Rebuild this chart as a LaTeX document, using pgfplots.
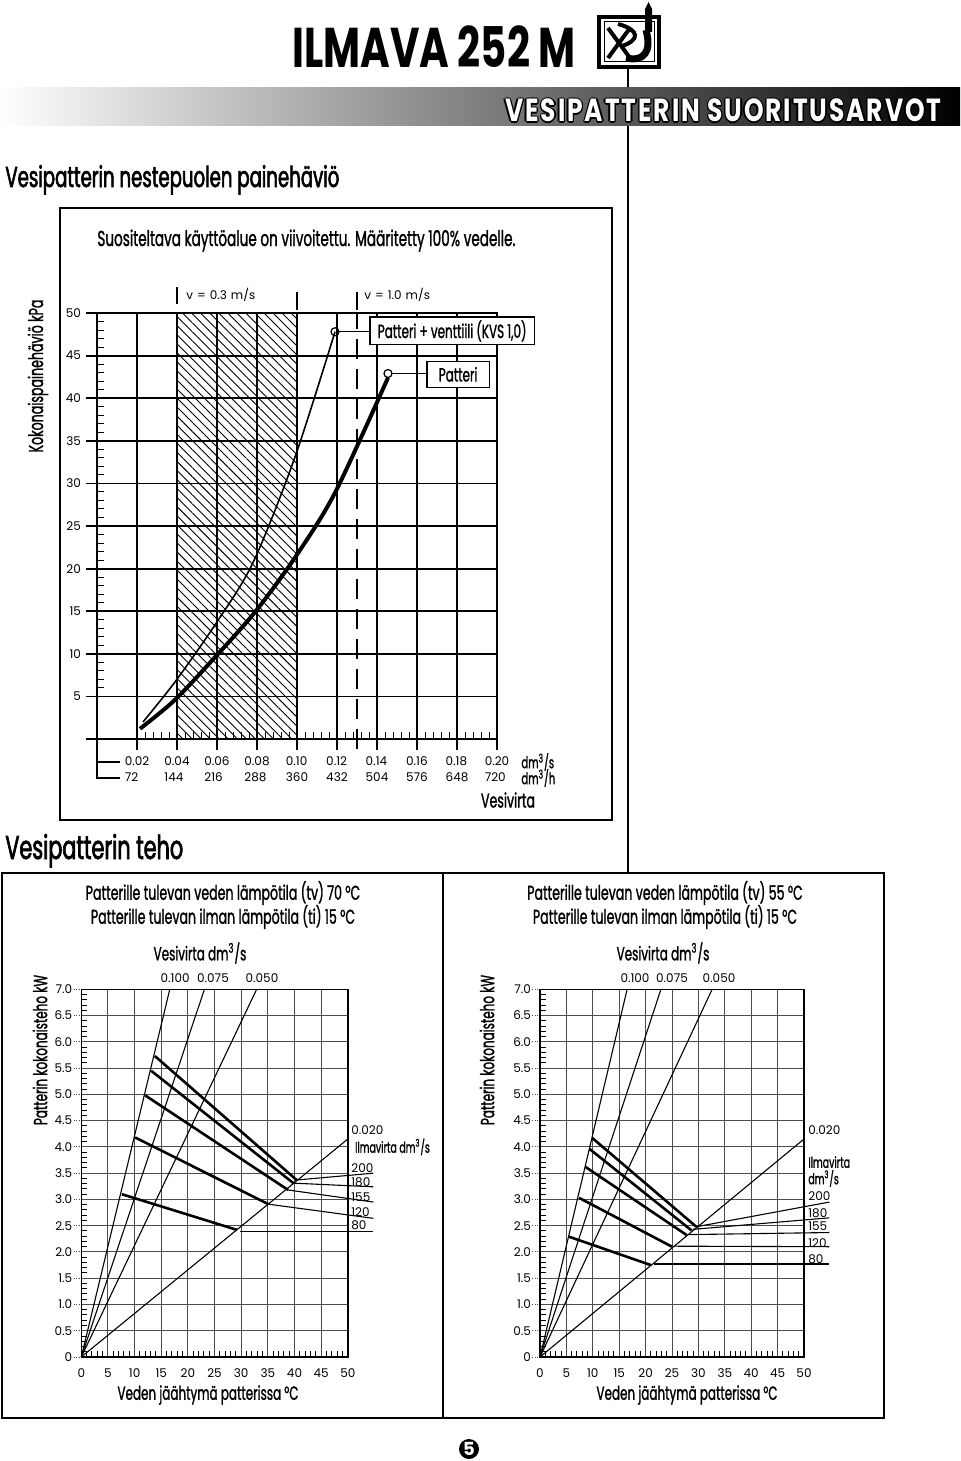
\documentclass[border=0pt]{standalone}
\usepackage{fontspec}
\setmainfont{Poppins}
\newfontfamily\cnd{Poppins}[FakeStretch=0.63, FakeBold=1.2]
\newfontfamily\hdg{Poppins}[FakeStretch=0.63, FakeBold=2]
\newfontfamily\ttl{Poppins}[FakeStretch=0.72]
\newfontfamily\barf{Poppins}[FakeStretch=0.78, LetterSpace=6]
\newfontfamily\tck{Poppins}
\usepackage{pgfplots}
\pgfplotsset{compat=1.18}
\usetikzlibrary{patterns.meta}

\pgfplotsset{
  bchart/.style={
    scale only axis, height=183.85pt,
    xmin=0, xmax=50, ymin=0, ymax=7, clip=false,
    xtick={0,5,...,50}, ytick={0,0.5,...,7},
    yticklabels={0,0.5,1.0,1.5,2.0,2.5,3.0,3.5,4.0,4.5,5.0,5.5,6.0,6.5,7.0},
    xtick pos=bottom, ytick pos=left,
    minor x tick num=4, minor y tick num=4,
    grid=major, major grid style={black!70, line width=0.5pt},
    tick align=inside, major tick length=-4.5pt, minor tick length=3pt,
    major x tick style={draw=none},
    major y tick style={black!70, densely dotted, line width=0.5pt},
    minor tick style={black, line width=0.5pt},
    axis line style={black, line width=0.7pt},
    /pgf/number format/assume math mode=true,
    tick label style={font=\tck\fontsize{6}{7}\selectfont},
    xticklabel style={yshift=-2.5pt},
    yticklabel style={xshift=-1pt},
  },
  vline/.style={black, line width=0.55pt},
  aline/.style={black, line width=1.3pt},
}

\begin{document}
\begin{tikzpicture}[x=0.5pt,y=-0.5pt]
\path[use as bounding box] (0,0) rectangle (960,1461);
\coordinate (TOP) at (97,739);
\coordinate (BL) at (81.3,1357);
\coordinate (BR) at (540,1357);

% vertical page line and header bar
\draw[line width=1pt] (628,68) -- (628,873);
\shade[left color=white, right color=black] (0,88) rectangle (960,126);
\foreach \dx/\dy in {-1.4/0,1.4/0,0/-1.4,0/1.4,-1/-1,1/1,-1/1,1/-1}
  \node[anchor=base east, inner sep=0, text=black, font=\barf\bfseries\fontsize{16}{16}\selectfont] at (942+\dx,122+\dy) {VESIPATTERIN SUORITUSARVOT};
\node[anchor=base east, inner sep=0, text=white, font=\barf\bfseries\fontsize{16}{16}\selectfont] at (942,122) {VESIPATTERIN SUORITUSARVOT};

% title
\node[anchor=base, inner sep=0, font=\ttl\bfseries\fontsize{28}{28}\selectfont] at (434,68) {ILMAVA 252 M};
% logo
\draw[line width=1.6pt] (599,17) rectangle (659,67);
\draw[line width=0.5pt] (604,22) rectangle (654,62);
\fill (645,32) -- (645,9) -- (648.5,2) -- (652,9) -- (652,32) -- cycle;
\draw[line width=3.5pt] (646,30) .. controls (652,52) and (644,62) .. (626,58);
\draw[line width=2pt] (608,28) -- (630,58) (608,58) -- (630,28);
\draw[line width=2pt] (618,24) .. controls (640,30) and (640,40) .. (622,46);

% headings
\node[anchor=base west, inner sep=0, font=\hdg\fontsize{14.4}{15}\selectfont] at (5,187) {Vesipatterin nestepuolen painehäviö};
\node[anchor=base west, inner sep=0, font=\hdg\fontsize{16.5}{17}\selectfont] at (5,859) {Vesipatterin teho};

% frames
\draw[line width=1pt] (60,208) rectangle (612,820);
\draw[line width=1pt] (2,873) rectangle (884,1418);
\draw[line width=1pt] (443,873) -- (443,1418);

\node[anchor=base west, inner sep=0, font=\cnd\fontsize{10.8}{12}\selectfont] at (97,246) {Suositeltava käyttöalue on viivoitettu. Määritetty 100\% vedelle.};
\node[rotate=90, inner sep=0, font=\cnd\fontsize{10}{11}\selectfont] at (38,376) {Kokonaispainehäviö kPa};

% bracket for two tick rows
\draw[line width=0.6pt] (97,739) -- (97,778) -- (120,778) (97,762) -- (120,762);
\node[anchor=west, inner sep=0, font=\cnd\fontsize{8}{9}\selectfont] at (521,762) {dm\textsuperscript{3}/s};
\node[anchor=west, inner sep=0, font=\cnd\fontsize{8}{9}\selectfont] at (521,778) {dm\textsuperscript{3}/h};
\node[inner sep=0, font=\cnd\fontsize{10}{11}\selectfont] at (508,800) {Vesivirta};

% ===== top chart =====
\begin{axis}[
  at={(TOP)}, anchor=south west, scale only axis,
  width=200pt, height=213pt,
  xmin=0, xmax=0.2, ymin=0, ymax=50, clip=false,
  xtick={0.02,0.04,0.06,0.08,0.10,0.12,0.14,0.16,0.18,0.20},
  xticklabels={{0.02\\72},{0.04\\144},{0.06\\216},{0.08\\288},{0.10\\360},{0.12\\432},{0.14\\504},{0.16\\576},{0.18\\648},{0.20\\720}},
  xticklabel style={align=left, yshift=-5.5pt, font=\tck\fontsize{6}{8}\selectfont},
  ytick={5,10,...,50},
  extra y ticks={0}, extra y tick labels={},
  xtick pos=bottom, ytick pos=left,
  yticklabel style={xshift=-4.5pt, font=\tck\fontsize{6}{7}\selectfont},
  /pgf/number format/assume math mode=true,
  minor x tick num=4, minor y tick num=4,
  grid=major, major grid style={black, line width=0.9pt},
  tick align=inside, major tick length=-5.5pt, minor tick length=3.5pt,
  major tick style={black, line width=0.9pt},
  minor tick style={black, line width=0.5pt},
  axis line style={black, line width=1pt},
]
% hatched recommended region
\addplot[draw=none, pattern={Lines[angle=-45, distance=3.2pt, line width=0.45pt]}] coordinates {(0.04,50) (0.10,50)} \closedcycle;
\addplot[black, line width=1.2pt, dash pattern=on 7.5pt off 1.5pt] coordinates {(0.04,-1) (0.04,50)};
\addplot[black, line width=1.2pt, dash pattern=on 7.5pt off 1.5pt] coordinates {(0.10,-1) (0.10,50)};
\addplot[black, line width=1.2pt, dash pattern=on 10pt off 5pt] coordinates {(0.13,-1.2) (0.13,50)};
\addplot[black, line width=1.2pt] coordinates {(0.04,51) (0.04,53.1)};
\addplot[black, line width=1.2pt] coordinates {(0.10,50.4) (0.10,52.5)};
\addplot[black, line width=1.2pt] coordinates {(0.13,50.4) (0.13,52.5)};
\node[anchor=west, inner sep=0, font=\tck\fontsize{6}{7}\selectfont] at (axis cs:0.0445,52.1) {v\,\,=\,\,0.3\,\,m/s};
\node[anchor=west, inner sep=0, font=\tck\fontsize{6}{7}\selectfont] at (axis cs:0.1335,52.1) {v\,\,=\,\,1.0\,\,m/s};
% curves
\addplot[black, line width=0.8pt, smooth] coordinates {(0.023,2.0) (0.039,6.7) (0.059,13.4) (0.078,20.7) (0.099,33.1) (0.119,47.8)};
\addplot[black, line width=2pt, smooth] coordinates {(0.0215,1.2) (0.039,4.6) (0.059,9.6) (0.079,14.9) (0.099,21.3) (0.119,28.9) (0.1455,42.4)};
\addplot[black, line width=0.6pt] coordinates {(0.1205,47.8) (0.136,47.8)};
\addplot[black, line width=0.6pt] coordinates {(0.147,42.9) (0.1645,42.9)};
\addplot[only marks, mark=o, mark size=2pt, mark options={fill=white, line width=0.6pt}] coordinates {(0.119,47.8) (0.1455,42.9)};
\node[draw, line width=0.8pt, fill=white, anchor=west, inner xsep=4pt, inner ysep=1.5pt, minimum height=13pt, font=\cnd\fontsize{9.5}{10}\selectfont] at (axis cs:0.136,47.9) {Patteri + venttiili (KVS 1,0)};
\node[draw, line width=0.8pt, fill=white, anchor=west, inner xsep=6pt, inner ysep=1.5pt, minimum height=13pt, font=\cnd\fontsize{9.5}{10}\selectfont] at (axis cs:0.1645,42.8) {Patteri};
\end{axis}

% ===== bottom left chart (tv 70) =====
\node[align=center, inner sep=0, font=\cnd\fontsize{10}{12}\selectfont] at (223,905) {Patterille tulevan veden lämpötila (tv) 70 °C\\Patterille tulevan ilman lämpötila (ti) 15 °C};
\node[inner sep=0, font=\cnd\fontsize{9.5}{11}\selectfont] at (200,953) {Vesivirta dm\textsuperscript{3}/s};
\node[rotate=90, inner sep=0, font=\cnd\fontsize{9.5}{11}\selectfont] at (40,1050) {Patterin kokonaisteho kW};
\node[inner sep=0, font=\cnd\fontsize{9.5}{11}\selectfont] at (208,1395) {Veden jäähtymä patterissa °C};

\begin{axis}[bchart, at={(BL)}, anchor=south west, width=133.25pt]
\addplot[vline] coordinates {(0,0) (16.6,7)};
\addplot[vline] coordinates {(0,0) (23.1,7)};
\addplot[vline] coordinates {(0,0) (32.9,7)};
\addplot[vline] coordinates {(0,0) (50,4.15)};
\addplot[aline] coordinates {(13.8,5.73) (40.4,3.37)};
\addplot[aline] coordinates {(13.1,5.45) (39.8,3.31)};
\addplot[aline] coordinates {(12.0,4.98) (38.8,3.18)};
\addplot[aline] coordinates {(10.1,4.18) (35.1,2.91)};
\addplot[aline] coordinates {(7.6,3.10) (29.2,2.42)};
\addplot[vline] coordinates {(40.4,3.37) (54.8,3.50)};
\addplot[vline] coordinates {(39.8,3.31) (54.8,3.24)};
\addplot[vline] coordinates {(38.8,3.18) (54.8,2.95)};
\addplot[vline] coordinates {(35.1,2.91) (54.8,2.64)};
\addplot[vline] coordinates {(29.8,2.39) (54.8,2.39)};
\node[inner sep=0, font=\tck\fontsize{6}{7}\selectfont] at (axis cs:17.6,7.22) {0.100};
\node[inner sep=0, font=\tck\fontsize{6}{7}\selectfont] at (axis cs:24.7,7.22) {0.075};
\node[inner sep=0, font=\tck\fontsize{6}{7}\selectfont] at (axis cs:33.9,7.22) {0.050};
\node[anchor=west, inner sep=0, font=\tck\fontsize{6}{7}\selectfont] at (axis cs:50.6,4.32) {0.020};
\node[anchor=west, inner sep=0, font=\cnd\fontsize{7.5}{8}\selectfont] at (axis cs:51.3,4.0) {Ilmavirta dm\textsuperscript{3}/s};
\node[anchor=west, inner sep=0, font=\tck\fontsize{6}{7}\selectfont] at (axis cs:50.6,3.60) {200};
\node[anchor=west, inner sep=0, font=\tck\fontsize{6}{7}\selectfont] at (axis cs:50.6,3.33) {180};
\node[anchor=west, inner sep=0, font=\tck\fontsize{6}{7}\selectfont] at (axis cs:50.6,3.05) {155};
\node[anchor=west, inner sep=0, font=\tck\fontsize{6}{7}\selectfont] at (axis cs:50.6,2.76) {120};
\node[anchor=west, inner sep=0, font=\tck\fontsize{6}{7}\selectfont] at (axis cs:50.6,2.50) {80};
\end{axis}

% ===== bottom right chart (tv 55) =====
\node[align=center, inner sep=0, font=\cnd\fontsize{10}{12}\selectfont] at (665,905) {Patterille tulevan veden lämpötila (tv) 55 °C\\Patterille tulevan ilman lämpötila (ti) 15 °C};
\node[inner sep=0, font=\cnd\fontsize{9.5}{11}\selectfont] at (663,953) {Vesivirta dm\textsuperscript{3}/s};
\node[rotate=90, inner sep=0, font=\cnd\fontsize{9.5}{11}\selectfont] at (487,1050) {Patterin kokonaisteho kW};
\node[inner sep=0, font=\cnd\fontsize{9.5}{11}\selectfont] at (687,1395) {Veden jäähtymä patterissa °C};

\begin{axis}[bchart, at={(BR)}, anchor=south west, width=132pt]
\addplot[vline] coordinates {(0,0) (16.5,7)};
\addplot[vline] coordinates {(0,0) (22.9,7)};
\addplot[vline] coordinates {(0,0) (32.6,7)};
\addplot[vline] coordinates {(0,0) (50,4.15)};
\addplot[aline] coordinates {(9.9,4.17) (29.6,2.48)};
\addplot[aline] coordinates {(9.4,3.96) (28.7,2.41)};
\addplot[aline] coordinates {(8.6,3.62) (27.8,2.32)};
\addplot[aline] coordinates {(7.4,3.03) (25.0,2.10)};
\addplot[aline] coordinates {(5.5,2.29) (21.0,1.75)};
\addplot[vline] coordinates {(29.6,2.48) (54.8,2.95)};
\addplot[vline] coordinates {(28.9,2.43) (54.8,2.65)};
\addplot[vline] coordinates {(28.0,2.33) (54.8,2.37)};
\addplot[vline] coordinates {(25.3,2.11) (54.8,2.10)};
\addplot[vline] coordinates {(21.5,1.77) (54.8,1.77)};
\node[inner sep=0, font=\tck\fontsize{6}{7}\selectfont] at (axis cs:18.0,7.22) {0.100};
\node[inner sep=0, font=\tck\fontsize{6}{7}\selectfont] at (axis cs:25.0,7.22) {0.075};
\node[inner sep=0, font=\tck\fontsize{6}{7}\selectfont] at (axis cs:33.9,7.22) {0.050};
\node[anchor=west, inner sep=0, font=\tck\fontsize{6}{7}\selectfont] at (axis cs:50.75,4.32) {0.020};
\node[anchor=west, inner sep=0, font=\cnd\fontsize{7.5}{8}\selectfont] at (axis cs:50.75,3.71) {Ilmavirta};
\node[anchor=west, inner sep=0, font=\cnd\fontsize{7.5}{8}\selectfont] at (axis cs:50.75,3.40) {dm\textsuperscript{3}/s};
\node[anchor=west, inner sep=0, font=\tck\fontsize{6}{7}\selectfont] at (axis cs:50.75,3.07) {200};
\node[anchor=west, inner sep=0, font=\tck\fontsize{6}{7}\selectfont] at (axis cs:50.75,2.74) {180};
\node[anchor=west, inner sep=0, font=\tck\fontsize{6}{7}\selectfont] at (axis cs:50.75,2.50) {155};
\node[anchor=west, inner sep=0, font=\tck\fontsize{6}{7}\selectfont] at (axis cs:50.75,2.17) {120};
\node[anchor=west, inner sep=0, font=\tck\fontsize{6}{7}\selectfont] at (axis cs:50.75,1.87) {80};
\end{axis}

% page number
\fill (469,1449) circle (10);
\node[text=white, inner sep=0, font=\bfseries\fontsize{9}{9}\selectfont] at (469,1449) {5};
\end{tikzpicture}
\end{document}
